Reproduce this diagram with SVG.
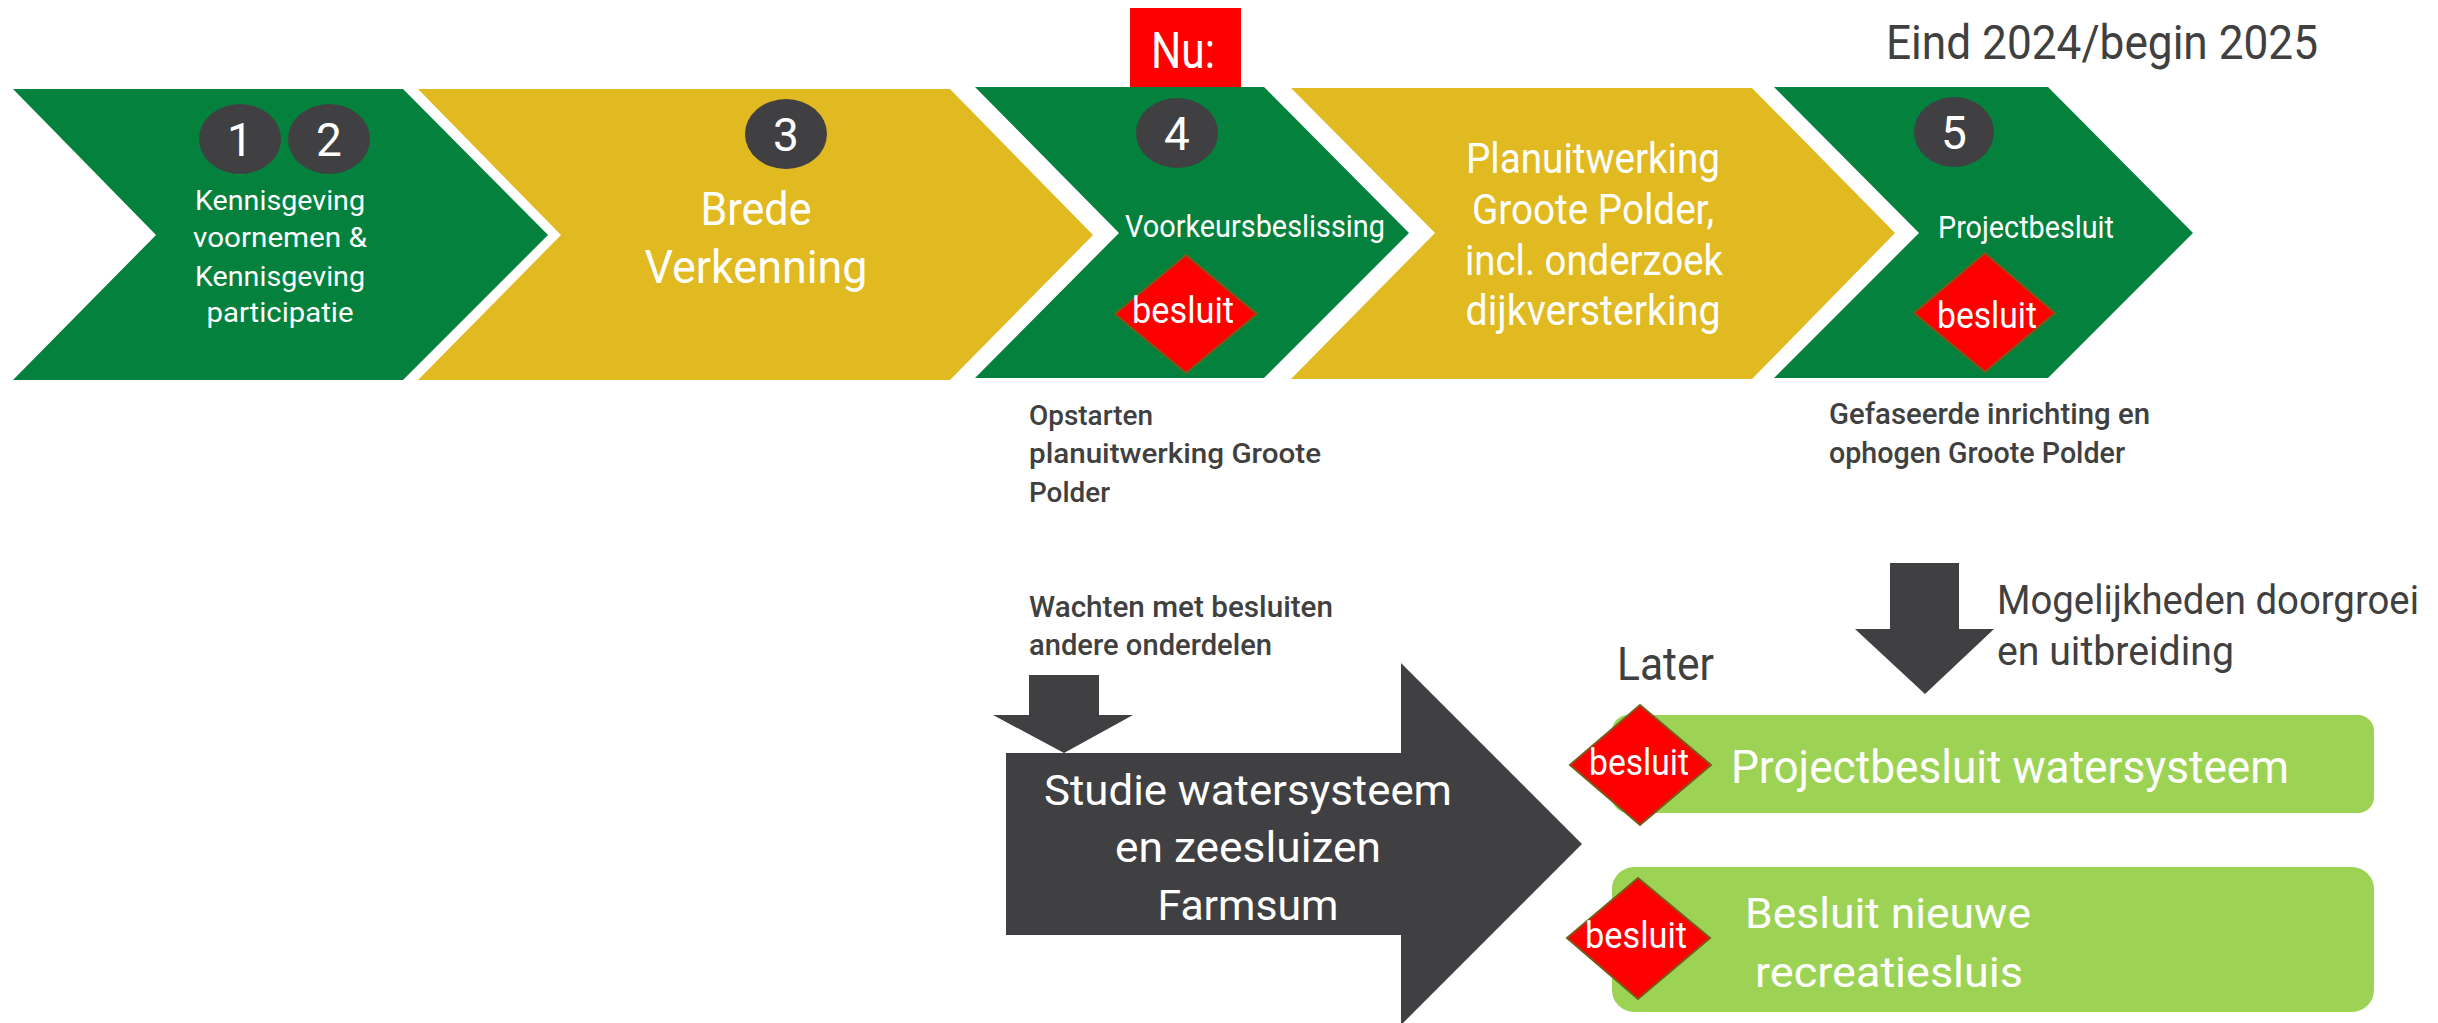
<svg xmlns="http://www.w3.org/2000/svg" width="2438" height="1023" viewBox="0 0 2438 1023">
<style>
text{font-family:Roboto,"Liberation Sans",sans-serif;}
.w{fill:#ffffff;}
.d{fill:#404040;}
.c{text-anchor:middle;}
.green{fill:#03813d;}
.yellow{fill:#e1b921;}
.num{fill:#404042;}
.dia{fill:#ff0000;stroke:#7a5a1a;stroke-width:2;}
.lg{fill:#9dd354;}
.dk{fill:#404042;}
.sb{font-weight:500;}
</style>
<rect width="2438" height="1023" fill="#ffffff"/>
<g id="step12">
<polygon class="green" points="13,89 403,89 548,235 403,380 13,380 156,235"/>
<ellipse class="num" cx="240" cy="139" rx="41" ry="35"/>
<ellipse class="num" cx="329" cy="139" rx="41" ry="35"/>
<text class="w c" x="240" y="156" font-size="46">1</text>
<text class="w c" x="329" y="156" font-size="46">2</text>
<text class="w c" font-size="28"><tspan x="280" y="210" textLength="170" lengthAdjust="spacingAndGlyphs">Kennisgeving</tspan><tspan x="280" y="247" textLength="174" lengthAdjust="spacingAndGlyphs">voornemen &amp;</tspan><tspan x="280" y="286" textLength="170" lengthAdjust="spacingAndGlyphs">Kennisgeving</tspan><tspan x="280" y="322" textLength="147" lengthAdjust="spacingAndGlyphs">participatie</tspan></text>
</g>
<g id="step3">
<polygon class="yellow" points="418,89 950,89 1093,235 950,380 418,380 561,235"/>
<ellipse class="num" cx="786" cy="134" rx="41" ry="35"/>
<text class="w c" x="786" y="151" font-size="46">3</text>
<text class="w c" font-size="46"><tspan x="756" y="225" textLength="111" lengthAdjust="spacingAndGlyphs">Brede</tspan><tspan x="756" y="283" textLength="223" lengthAdjust="spacingAndGlyphs">Verkenning</tspan></text>
</g>
<g id="nu">
<rect x="1130" y="8" width="111" height="80" fill="#ff0000"/>
<text class="w c" x="1183" y="68" font-size="50" textLength="64" lengthAdjust="spacingAndGlyphs">Nu:</text>
</g>
<g id="step4">
<polygon class="green" points="975,87 1264,87 1409,233 1264,378 975,378 1119,233"/>
<ellipse class="num" cx="1177" cy="133" rx="41" ry="35"/>
<text class="w c" x="1177" y="150" font-size="46">4</text>
<text class="w c" x="1255" y="237" font-size="32" textLength="260" lengthAdjust="spacingAndGlyphs">Voorkeursbeslissing</text>
<polygon class="dia" points="1186,255 1257,314 1186,373 1115,314"/>
<text class="w c" x="1183" y="323" font-size="36" textLength="102" lengthAdjust="spacingAndGlyphs">besluit</text>
</g>
<g id="planuitwerking">
<polygon class="yellow" points="1291,88 1752,88 1895,233 1752,379 1291,379 1435,233"/>
<text class="w c" font-size="42"><tspan x="1593" y="173" textLength="254" lengthAdjust="spacingAndGlyphs">Planuitwerking</tspan><tspan x="1593" y="224" textLength="242" lengthAdjust="spacingAndGlyphs">Groote Polder,</tspan><tspan x="1594" y="275" textLength="258" lengthAdjust="spacingAndGlyphs">incl. onderzoek</tspan><tspan x="1593" y="325" textLength="255" lengthAdjust="spacingAndGlyphs">dijkversterking</tspan></text>
</g>
<g id="step5">
<polygon class="green" points="1774,87 2048,87 2193,233 2048,378 1774,378 1919,233"/>
<ellipse class="num" cx="1954" cy="132" rx="40" ry="35"/>
<text class="w c" x="1954" y="149" font-size="46">5</text>
<text class="w c" x="2026" y="238" font-size="31" textLength="176" lengthAdjust="spacingAndGlyphs">Projectbesluit</text>
<polygon class="dia" points="1985,253 2055,313 1985,372 1914,313"/>
<text class="w c" x="1987" y="328" font-size="36" textLength="100" lengthAdjust="spacingAndGlyphs">besluit</text>
</g>
<g id="eind">
<text class="d" x="1886" y="59" font-size="49" textLength="432" lengthAdjust="spacingAndGlyphs">Eind 2024/begin 2025</text>
</g>
<g id="opstarten">
<text class="d sb" font-size="28"><tspan x="1029" y="425" textLength="124" lengthAdjust="spacingAndGlyphs">Opstarten</tspan><tspan x="1029" y="463" textLength="292" lengthAdjust="spacingAndGlyphs">planuitwerking Groote</tspan><tspan x="1029" y="502" textLength="81" lengthAdjust="spacingAndGlyphs">Polder</tspan></text>
</g>
<g id="gefaseerd">
<text class="d sb" font-size="29"><tspan x="1829" y="424" textLength="321" lengthAdjust="spacingAndGlyphs">Gefaseerde inrichting en</tspan><tspan x="1829" y="463" textLength="296" lengthAdjust="spacingAndGlyphs">ophogen Groote Polder</tspan></text>
</g>
<g id="wachten">
<text class="d sb" font-size="30"><tspan x="1029" y="617" textLength="304" lengthAdjust="spacingAndGlyphs">Wachten met besluiten</tspan><tspan x="1029" y="655" textLength="243" lengthAdjust="spacingAndGlyphs">andere onderdelen</tspan></text>
</g>
<g id="connectors">
<polygon class="dk" points="1029,675 1099,675 1099,715 1133,715 1064,753 993,715 1029,715"/>
<polygon class="dk" points="1890,563 1959,563 1959,629 1994,629 1925,694 1855,629 1890,629"/>
</g>
<g id="studie">
<polygon class="dk" points="1006,753 1401,753 1401,663 1582,844 1401,1025 1401,935 1006,935"/>
<text class="w c" font-size="42"><tspan x="1248" y="805" textLength="408" lengthAdjust="spacingAndGlyphs">Studie watersysteem</tspan><tspan x="1248" y="862" textLength="266" lengthAdjust="spacingAndGlyphs">en zeesluizen</tspan><tspan x="1248" y="920" textLength="181" lengthAdjust="spacingAndGlyphs">Farmsum</tspan></text>
</g>
<g id="mogelijkheden">
<text class="d" font-size="41"><tspan x="1997" y="614" textLength="422" lengthAdjust="spacingAndGlyphs">Mogelijkheden doorgroei</tspan><tspan x="1997" y="665" textLength="237" lengthAdjust="spacingAndGlyphs">en uitbreiding</tspan></text>
</g>
<g id="later">
<text class="d" x="1617" y="680" font-size="46" textLength="97" lengthAdjust="spacingAndGlyphs">Later</text>
</g>
<g id="projectbesluit-watersysteem">
<rect class="lg" x="1612" y="715" width="762" height="98" rx="16"/>
<polygon class="dia" points="1640,705 1711,765 1640,825 1570,765"/>
<text class="w c" x="1639" y="775" font-size="36" textLength="100" lengthAdjust="spacingAndGlyphs">besluit</text>
<text class="w" x="1731" y="783" font-size="46" textLength="558" lengthAdjust="spacingAndGlyphs">Projectbesluit watersysteem</text>
</g>
<g id="besluit-recreatiesluis">
<rect class="lg" x="1612" y="867" width="762" height="145" rx="22"/>
<polygon class="dia" points="1638,878 1710,938 1638,999 1567,938"/>
<text class="w c" x="1636" y="948" font-size="36" textLength="102" lengthAdjust="spacingAndGlyphs">besluit</text>
<text class="w c" font-size="42"><tspan x="1888" y="928" textLength="286" lengthAdjust="spacingAndGlyphs">Besluit nieuwe</tspan><tspan x="1889" y="987" textLength="268" lengthAdjust="spacingAndGlyphs">recreatiesluis</tspan></text>
</g>
</svg>
